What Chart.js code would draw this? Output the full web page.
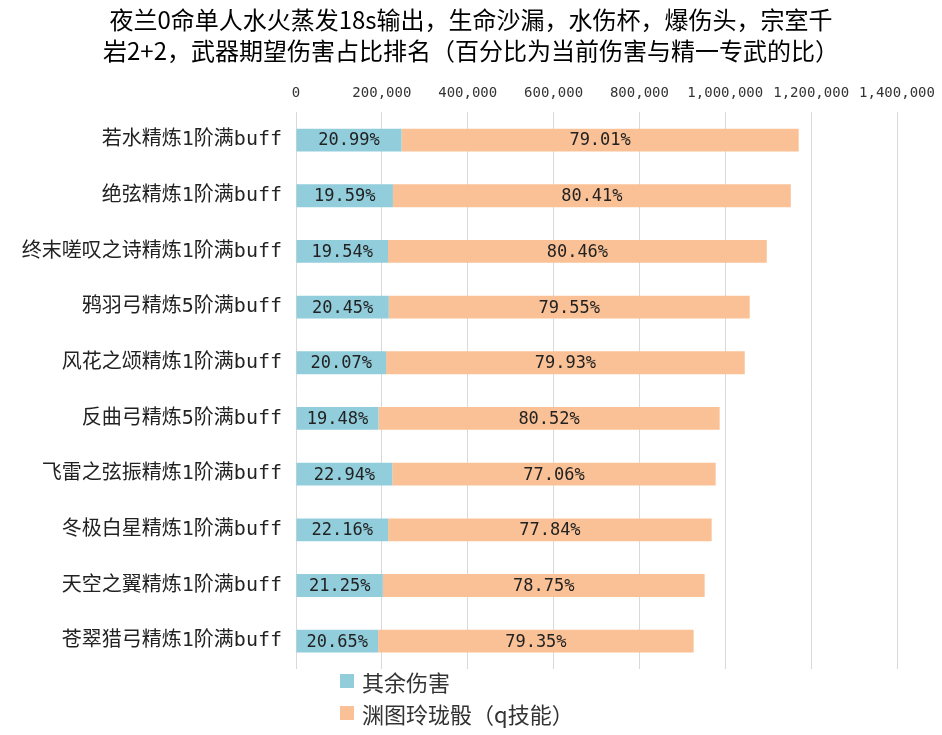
<!DOCTYPE html>
<html>
<head>
<meta charset="utf-8">
<script src="https://cdn.jsdelivr.net/npm/chart.js@4/dist/chart.umd.min.js"></script>
<style>
  html, body { margin: 0; padding: 0; background: #fff; }
  #wrap { position: relative; width: 942px; height: 735px; background: #fff; }
  #legend { position: absolute; left: 340px; top: 665px; font-family: "Noto Sans CJK SC", sans-serif; font-size: 22px; color: #333; }
  .row { height: 32px; display: flex; align-items: center; white-space: nowrap; }
  .box { width: 14px; height: 14px; margin-right: 8px; flex: none; }
</style>
</head>
<body>
<div id="wrap">
  <canvas id="c" width="942" height="735"></canvas>
  <div id="legend"></div>
</div>
<script>
const titleLines = ['夜兰0命单人水火蒸发18s输出，生命沙漏，水伤杯，爆伤头，宗室千', '岩2+2，武器期望伤害占比排名（百分比为当前伤害与精一专武的比）'];
const categories = ['若水精炼1阶满buff','绝弦精炼1阶满buff','终末嗟叹之诗精炼1阶满buff','鸦羽弓精炼5阶满buff','风花之颂精炼1阶满buff','反曲弓精炼5阶满buff','飞雷之弦振精炼1阶满buff','冬极白星精炼1阶满buff','天空之翼精炼1阶满buff','苍翠猎弓精炼1阶满buff'];
const seriesNames = ['其余伤害', '渊图玲珑骰（q技能）'];
const otherDamage = [245800, 225800, 214300, 216100, 209800, 192200, 224300, 214600, 202300, 191300];
const burstDamage = [925200, 926800, 882300, 840800, 835500, 794700, 753300, 753700, 749600, 735000];
const otherPct = ['20.99%','19.59%','19.54%','20.45%','20.07%','19.48%','22.94%','22.16%','21.25%','20.65%'];
const burstPct = ['79.01%','80.41%','80.46%','79.55%','79.93%','80.52%','77.06%','77.84%','78.75%','79.35%'];
const xTicks = [0, 200000, 400000, 600000, 800000, 1000000, 1200000, 1400000];

const MONO_CJK = '"DejaVu Sans Mono", "Noto Sans CJK SC", sans-serif';

const labelPlugin = {
  id: 'segLabels',
  afterDatasetsDraw(chart) {
    const ctx = chart.ctx;
    ctx.save();
    ctx.font = '17px ' + MONO_CJK;
    ctx.fillStyle = '#222';
    ctx.textAlign = 'center';
    ctx.textBaseline = 'middle';
    chart.data.datasets.forEach((ds, di) => {
      const meta = chart.getDatasetMeta(di);
      meta.data.forEach((el, i) => {
        const cx = (el.x + el.base) / 2;
        ctx.fillText(ds.pctLabels[i], cx, el.y + 1);
      });
    });
    ctx.restore();
  }
};

const fmt = v => v.toString().replace(/\B(?=(\d{3})+(?!\d))/g, ',');

const chart = new Chart(document.getElementById('c'), {
  type: 'bar',
  data: {
    labels: categories,
    datasets: [
      { label: seriesNames[0], data: otherDamage, pctLabels: otherPct, backgroundColor: '#92CDDC', barPercentage: 0.41, categoryPercentage: 1 },
      { label: seriesNames[1], data: burstDamage, pctLabels: burstPct, backgroundColor: '#F9C195', barPercentage: 0.41, categoryPercentage: 1 }
    ]
  },
  options: {
    indexAxis: 'y',
    responsive: false,
    animation: false,
    layout: { padding: { left: 0, right: 0, top: 0, bottom: 66 } },
    plugins: {
      legend: { display: false },
      tooltip: { enabled: false },
      title: {
        display: true,
        text: titleLines,
        color: '#000',
        font: { family: '"Noto Sans CJK SC", sans-serif', size: 24, weight: 'normal', lineHeight: 1.3 },
        padding: { top: 4, bottom: 9 }
      }
    },
    scales: {
      x: {
        position: 'top',
        stacked: true,
        min: 0,
        max: 1400000,
        afterBuildTicks: s => { s.ticks = xTicks.map(v => ({ value: v })); },
        afterFit: s => { s.paddingRight = 45; },
        ticks: {
          callback: v => fmt(v),
          color: '#333',
          font: { family: MONO_CJK, size: 14 },
          padding: 10,
          maxRotation: 0,
          autoSkip: false
        },
        grid: { color: '#d9d9d9', drawTicks: false },
        border: { display: false }
      },
      y: {
        stacked: true,
        afterFit: s => { s.width = 296; },
        ticks: {
          color: '#222',
          font: { family: MONO_CJK, size: 20 },
          padding: 14
        },
        grid: { display: false, drawTicks: false },
        border: { display: false }
      }
    }
  },
  plugins: [labelPlugin]
});

const legend = document.getElementById('legend');
chart.data.datasets.forEach(ds => {
  const row = document.createElement('div');
  row.className = 'row';
  const box = document.createElement('span');
  box.className = 'box';
  box.style.background = ds.backgroundColor;
  const txt = document.createElement('span');
  txt.textContent = ds.label;
  row.appendChild(box);
  row.appendChild(txt);
  legend.appendChild(row);
});
</script>
</body>
</html>
